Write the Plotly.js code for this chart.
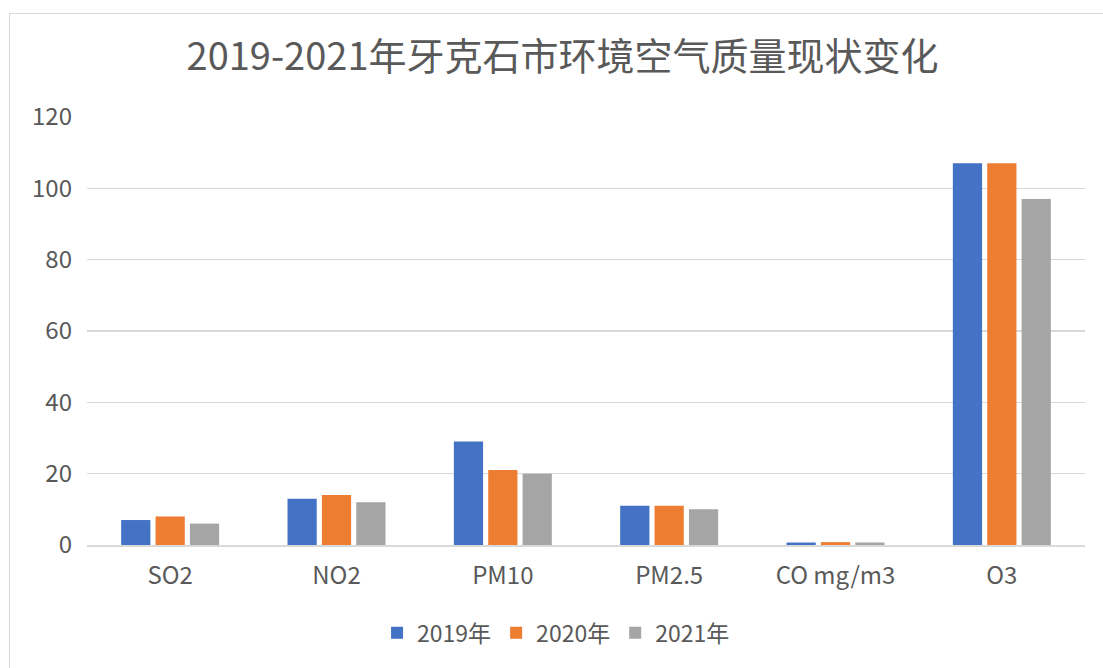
<!DOCTYPE html>
<html><head><meta charset="utf-8">
<script src="https://cdn.plot.ly/plotly-3.0.1.min.js"></script>
<style>
html,body{margin:0;padding:0;background:#fff;}
#frame{position:absolute;left:9px;top:13px;width:1100px;height:660px;border:1px solid #d9d9d9;box-sizing:border-box;}
#chart{position:absolute;left:0;top:0;width:1103px;height:668px;}
</style></head>
<body>
<div id="frame"></div>
<div id="chart"></div>
<script>
const categories = ["SO2", "NO2", "PM10", "PM2.5", "CO mg/m3", "O3"];
const seriesNames = ["2019年", "2020年", "2021年"];
const v2019 = [7, 13, 29, 11, 0.7, 107];
const v2020 = [8, 14, 21, 11, 0.8, 107];
const v2021 = [6, 12, 20, 10, 0.7, 97];
const colors = ["#4472C4", "#ED7D31", "#A5A5A5"];

const font = "'Noto Sans CJK SC', 'Noto Sans', sans-serif";
const data = [v2019, v2020, v2021].map((vals, i) => ({
  type: "bar", x: categories, y: vals, name: seriesNames[i],
  marker: {color: colors[i]}
}));
const layout = {
  width: 1103, height: 668,
  paper_bgcolor: "rgba(0,0,0,0)", plot_bgcolor: "rgba(0,0,0,0)",
  margin: {l: 87, r: 18, t: 117, b: 123},
  font: {family: font, color: "#595959", size: 24},
  title: {text: "2019-2021年牙克石市环境空气质量现状变化", font: {size: 38, color: "#595959", family: font}, x: 0.51, xanchor: "center", y: 0.915, yanchor: "middle"},
  barmode: "group", bargap: 0.38, bargroupgap: 0.15,
  xaxis: {showgrid: false, showline: true, linecolor: "#d9d9d9", linewidth: 2, ticks: "", tickfont: {size: 24, color: "#595959"}, ticklabelstandoff: 8, fixedrange: true},
  yaxis: {range: [0, 120], dtick: 20, showgrid: true, gridcolor: "#d9d9d9", gridwidth: 1.5, zeroline: false, showline: false, ticks: "", tickfont: {size: 24, color: "#595959"}, ticklabelstandoff: 14, fixedrange: true},
  legend: {orientation: "h", x: 0.47, xanchor: "center", y: -0.205, yanchor: "middle", font: {size: 23, color: "#595959"}, itemwidth: 30, traceorder: "normal"},
  showlegend: true
};
Plotly.newPlot("chart", data, layout, {displayModeBar: false, staticPlot: true});
</script>
</body></html>
